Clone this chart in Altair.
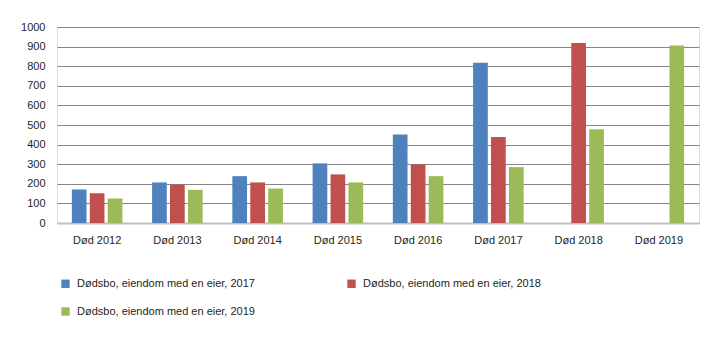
import altair as alt
import pandas as pd

categories = ["Død 2012", "Død 2013", "Død 2014", "Død 2015", "Død 2016", "Død 2017", "Død 2018", "Død 2019"]
series = ["Dødsbo, eiendom med en eier, 2017", "Dødsbo, eiendom med en eier, 2018", "Dødsbo, eiendom med en eier, 2019"]
v2017 = [171, 207, 239, 304, 452, 817, None, None]
v2018 = [152, 196, 207, 248, 299, 439, 918, None]
v2019 = [125, 169, 176, 207, 239, 285, 478, 906]
colors = ["#4F81BD", "#C0504D", "#9BBB59"]

rows = []
for s, vals in zip(series, [v2017, v2018, v2019]):
    for c, v in zip(categories, vals):
        if v is not None:
            rows.append({"kategori": c, "serie": s, "verdi": v})
df = pd.DataFrame(rows)

FONT = "Liberation Sans"

chart = alt.Chart(df).mark_bar().encode(
    x=alt.X("kategori:N", sort=categories, title=None,
            scale=alt.Scale(paddingInner=0.37, paddingOuter=0.185),
            axis=alt.Axis(labelAngle=0, ticks=False, domain=True, domainColor="#BFBFBF",
                          domainWidth=2, labelPadding=11, labelFontSize=11,
                          labelColor="#231F20", labelFont=FONT)),
    xOffset=alt.XOffset("serie:N", sort=series, scale=alt.Scale(paddingInner=0.18)),
    y=alt.Y("verdi:Q", title=None,
            scale=alt.Scale(domain=[0, 1000], nice=False),
            axis=alt.Axis(values=list(range(0, 1001, 100)), format="d", ticks=False, domain=False,
                          gridColor="#868686", gridWidth=1, labelPadding=12,
                          labelFontSize=11, labelColor="#231F20", labelFont=FONT)),
    color=alt.Color("serie:N", sort=series,
                    scale=alt.Scale(domain=series, range=colors),
                    legend=alt.Legend(title=None, orient="none", legendX=3, legendY=251,
                                      direction="horizontal",
                                      columns=2, columnPadding=91, rowPadding=16,
                                      symbolType="square", symbolSize=70,
                                      symbolStrokeWidth=0, labelFontSize=11,
                                      labelColor="#231F20", labelFont=FONT,
                                      labelLimit=400, labelOffset=6)),
).properties(
    width=642, height=196,
    autosize=alt.AutoSizeParams(type="none"),
    padding={"left": 57, "top": 27, "right": 21, "bottom": 118},
).configure_view(stroke=None).configure(background="white")

chart.save("out.html", embed_options={"renderer": "svg", "actions": False})
